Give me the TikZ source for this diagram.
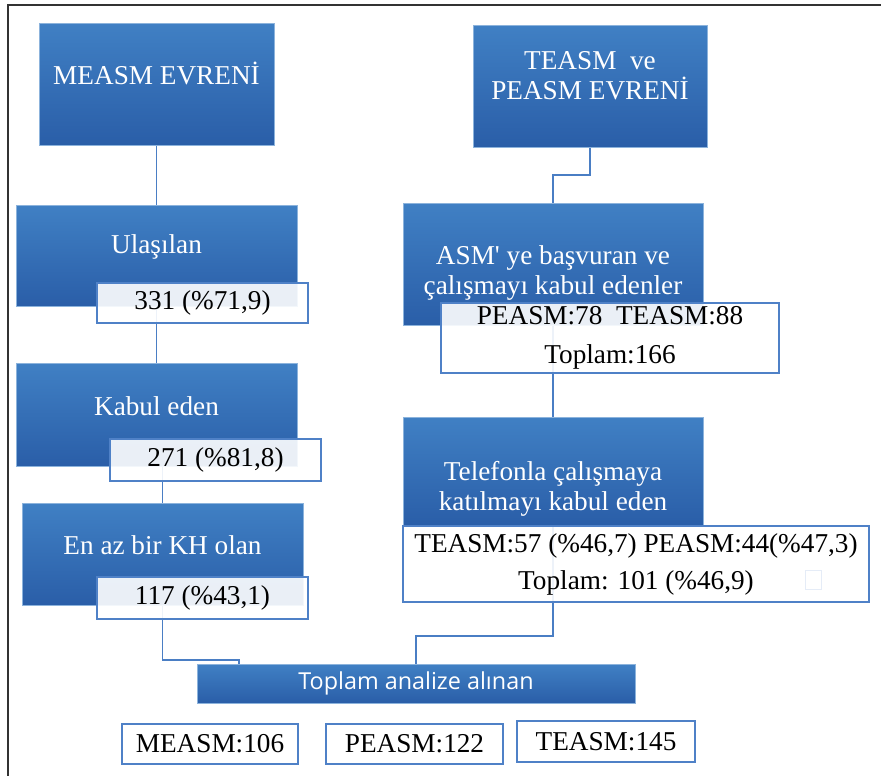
\documentclass[tikz,border=0pt]{standalone}
\usepackage{fontspec}
\setmainfont{Liberation Serif}
\newfontfamily\duzfont{Liberation Serif}[Ligatures=TeXOff]
\newfontfamily\toplamfont{Open Sans}
\usetikzlibrary{positioning, backgrounds}

\definecolor{boxtop}{RGB}{64,128,196}
\definecolor{boxbot}{RGB}{42,94,168}
\definecolor{linkblue}{RGB}{74,126,196}
\definecolor{frameblue}{RGB}{79,129,199}

\tikzset{
  bluebox/.style={rectangle, top color=boxtop, bottom color=boxbot,
    draw=boxtop!60!white, line width=0.3pt, inner sep=0pt, text=white},
  boxtext/.style={text=white, font=\fontsize{15.5}{17}\selectfont, align=center},
  numbox/.style={rectangle, draw=frameblue, line width=0.9pt, fill=white,
    fill opacity=0.9, text opacity=1, inner sep=0pt, align=center,
    font=\fontsize{15.5}{21}\selectfont},
  conn/.style={draw=linkblue, line width=0.9pt}
}

\begin{document}
\begin{tikzpicture}[x=0.02cm, y=-0.02cm]
  \useasboundingbox (0,0) rectangle (881,776);
  \draw[line width=1pt, black!80] (8,776) -- (8,5) -- (881,5);

  % MEASM side
  \node[bluebox, minimum width=4.70cm, minimum height=2.44cm,
    label={[boxtext, yshift=6pt]center:MEASM EVRENİ}] (measm) at (156.5,84) {};
  \node[bluebox, minimum width=5.62cm, minimum height=2.02cm,
    label={[boxtext, yshift=5pt]center:Ulaşılan}] (ulasilan) at (156.5,255.5) {};
  \node[bluebox, minimum width=5.62cm, minimum height=2.06cm,
    label={[boxtext, yshift=5pt]center:Kabul eden}] (kabul) at (156.5,414.5) {};
  \node[bluebox, minimum width=5.62cm, minimum height=2.04cm,
    label={[boxtext, yshift=5pt]center:En az bir KH olan}] (enaz) at (162.5,554) {};

  \node[numbox, minimum width=4.22cm, minimum height=0.80cm] (ulasilannum) at (202.5,303) {331 (\%71,9)};
  \node[numbox, minimum width=4.22cm, minimum height=0.84cm] (kabulnum) at (215.5,460) {271 (\%81,8)};
  \node[numbox, minimum width=4.22cm, minimum height=0.84cm] (enaznum) at (202.5,598) {117 (\%43,1)};

  % TEASM / PEASM side
  \node[bluebox, minimum width=4.68cm, minimum height=2.44cm,
    label={[boxtext, yshift=6pt]center:TEASM\ \ ve\\PEASM EVRENİ}] (teasm) at (590,86) {};
  \node[bluebox, minimum width=6.00cm, minimum height=2.44cm,
    label={[boxtext, yshift=-5pt]center:ASM{\duzfont'} ye başvuran ve\\çalışmayı kabul edenler}] (asm) at (553,264) {};
  \node[bluebox, minimum width=6.00cm, minimum height=2.16cm,
    label={[boxtext, yshift=-10pt]center:Telefonla çalışmaya\\katılmayı kabul eden}] (telefon) at (553,471) {};

  \node[numbox, minimum width=6.76cm, minimum height=1.40cm,
    font=\fontsize{15.5}{22}\selectfont] (asmnum) at (610,338) {PEASM:78\ \ TEASM:88\\Toplam:166};
  \node[numbox, minimum width=9.32cm, minimum height=1.52cm] (telefonnum) at (636,564)
    {TEASM:57 (\%46,7) PEASM:44(\%47,3)\\Toplam: 101 (\%46,9)};
  \node[draw=frameblue!15, line width=0.5pt, minimum width=0.32cm, minimum height=0.38cm] (bos) at (813,579.5) {};

  % total
  \node[bluebox, minimum width=8.76cm, minimum height=0.78cm,
    font=\toplamfont\fontsize{13.3}{16}\selectfont] (toplam) at (416,683.5) {Toplam analize alınan};
  \coordinate (toplamsol) at ([xshift=0.84cm]toplam.north west);

  \node[numbox, minimum width=3.52cm, minimum height=0.80cm] (measmson) at (210,744) {MEASM:106};
  \node[numbox, minimum width=3.54cm, minimum height=0.80cm] (peasmson) at (414.5,744) {PEASM:122};
  \node[numbox, minimum width=3.56cm, minimum height=0.82cm] (teasmson) at (606,741.5) {TEASM:145};

  \begin{scope}[on background layer]
    \draw[conn] (measm.south) -- (ulasilan.north);
    \draw[conn] (ulasilan.south) -- (kabul.north);
    \draw[conn] (kabul.south -| enaz.north) -- (enaz.north);
    \draw[conn] (enaz.south) -- ++(0,55) -| (toplamsol);
    \draw[conn] (teasm.south) -- ++(0,28) -| (asm.north);
    \draw[conn] (asm.south) -- (telefon.north);
    \draw[conn] (telefon.south) -- ++(0,111) -| (toplam.north);
  \end{scope}
\end{tikzpicture}
\end{document}
